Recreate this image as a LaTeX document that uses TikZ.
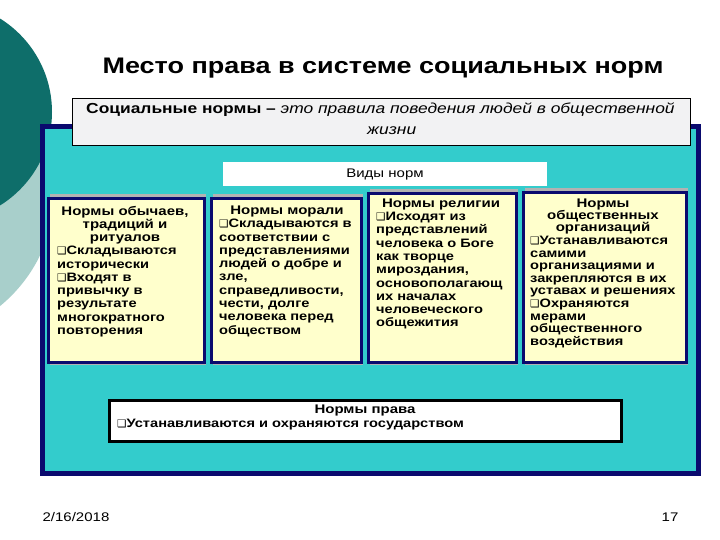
\documentclass[tikz,border=0pt]{standalone}
\usepackage{fontspec}
\setmainfont{Liberation Sans}[FakeStretch=1.2]
\newfontfamily\dv{DejaVu Sans}
\newcommand{\cb}{{\dv\fontsize{10.5}{10}\selectfont ❑}}
\begin{document}
\begin{tikzpicture}[x=1pt,y=-1pt,
 card/.style={draw=navy,line width=3pt,fill=cardy},
 head/.style={anchor=north,align=center,font=\bfseries\fontsize{12.5}{12.6}\selectfont,inner sep=0pt},
 body/.style={anchor=north west,align=left,font=\bfseries\fontsize{12.2}{13.3}\selectfont,inner sep=0pt}]
\definecolor{navy}{HTML}{0A0A6E}
\definecolor{cardy}{HTML}{FFFFCC}
\definecolor{cyanbg}{HTML}{33CCCC}
\definecolor{dteal}{HTML}{0E6E6A}
\definecolor{lteal}{HTML}{A8CFCB}
\useasboundingbox (0,0) rectangle (720,540);
\fill[white] (0,0) rectangle (720,540);
\begin{scope}
\clip (0,0) rectangle (720,540);
\fill[lteal] (-95,190) circle (150);
\fill[dteal] (-58,112) circle (110);
\end{scope}
\node (title) at (383,68) {\bfseries\fontsize{22.5}{24}\selectfont Место права в системе социальных норм};
\node[draw=navy,line width=5pt,fill=cyanbg,minimum width=656,minimum height=346,inner sep=0] (frame) at (370,300) {};
\node[draw=black,fill=blue!4!gray!10,minimum width=618,minimum height=47,inner sep=0,anchor=north west] (def) at (72,98) {};
\node[anchor=north west,align=left,inner sep=0,font=\fontsize{14.5}{21}\selectfont] (deft) at (86,103)
 {\bfseries Социальные нормы -- \itshape\mdseries это правила поведения людей в общественной\\\hspace*{281pt}\itshape жизни};
\node[fill=white,minimum width=324,minimum height=24,inner sep=0] (vid) at (385,174) {};
\node[font=\fontsize{12.5}{13}\selectfont] (vidt) at (385,174) {Виды норм};
\foreach \n/\a/\b/\t in {c1/47/203/197,c2/210/360/197,c3/367/515/192,c4/522/685/191}{
 \fill[gray!60] (\a+3,\t-3) rectangle (\b+3,365);
 \node[card,minimum width={\b-\a},minimum height={361-\t},inner sep=0,anchor=north west] (\n) at (\a,\t) {};
}
\node[head,font=\bfseries\fontsize{12.5}{13}\selectfont] (h1) at (125,206) {Нормы обычаев,\\традиций и\\ритуалов};
\node[body] (b1) at (57,246) {\cb Складываются\\исторически\\\cb Входят в\\привычку в\\результате\\многократного\\повторения};
\node[head] (h2) at (287,206) {Нормы морали};
\node[body] (b2) at (219,219) {\cb Складываются в\\соответствии с\\представлениями\\людей о добре и\\зле,\\справедливости,\\чести, долге\\человека перед\\обществом};
\node[head] (h3) at (441,199) {Нормы религии};
\node[body] (b3) at (376,212) {\cb Исходят из\\представлений\\человека о Боге\\как творце\\мироздания,\\основополагающ\\их началах\\человеческого\\общежития};
\node[head,font=\bfseries\fontsize{12.5}{12}\selectfont] (h4) at (603,199) {Нормы\\общественных\\организаций};
\node[body,font=\bfseries\fontsize{12.2}{12.6}\selectfont] (b4) at (530,236) {\cb Устанавливаются\\самими\\организациями и\\закрепляются в их\\уставах и решениях\\\cb Охраняются\\мерами\\общественного\\воздействия};
\node[draw=black,line width=2.5pt,fill=white,minimum width=512,minimum height=41,inner sep=0,anchor=north west] (law) at (108,399) {};
\node[head] (lh) at (365,405) {Нормы права};
\node[body] (lb) at (117,419) {\cb Устанавливаются и охраняются государством};
\node[font=\fontsize{12.5}{13}\selectfont] (date) at (76,517) {2/16/2018};
\node[font=\fontsize{12.5}{13}\selectfont] (pg) at (670,517) {17};
\end{tikzpicture}
\end{document}
